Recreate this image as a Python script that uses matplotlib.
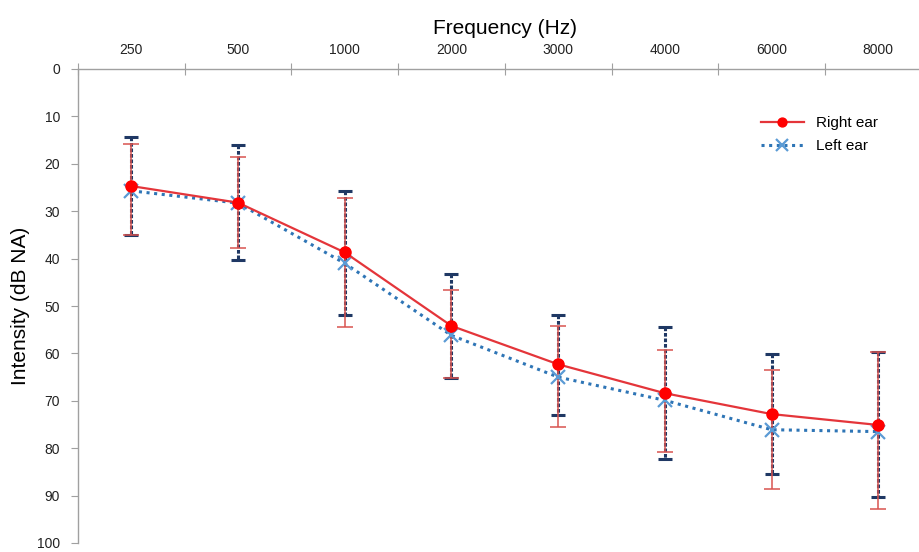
import matplotlib
matplotlib.use("Agg")
import matplotlib.pyplot as plt
from matplotlib.ticker import FixedLocator, NullFormatter, FixedFormatter
import numpy as np

plt.rcParams['font.family'] = ['Liberation Sans', 'DejaVu Sans']

freqs = ["250", "500", "1000", "2000", "3000", "4000", "6000", "8000"]
right_mean = [24.7, 28.2, 38.7, 54.2, 62.3, 68.4, 72.8, 75.1]
right_low = [15.9, 18.6, 27.2, 46.7, 54.2, 59.2, 63.6, 59.8]
right_high = [35.1, 37.7, 54.4, 65.1, 75.5, 80.8, 88.7, 92.9]
left_mean = [25.7, 28.3, 41.0, 56.2, 65.0, 69.9, 76.1, 76.5]
left_low = [14.4, 16.1, 25.7, 43.3, 51.9, 54.4, 60.2, 59.8]
left_high = [35.0, 40.4, 51.9, 65.1, 73.0, 82.2, 85.4, 90.4]

x = np.arange(len(freqs))
fig = plt.figure(figsize=(9.2, 5.52), dpi=100)
top_px, bot_px = 69, 543
ax = fig.add_axes([78/920, 1-bot_px/552, 853.6/920, (bot_px-top_px)/552])

rm = np.array(right_mean); lm = np.array(left_mean)
lerr = [lm - np.array(left_low), np.array(left_high) - lm]
rerr = [rm - np.array(right_low), np.array(right_high) - rm]

# Left ear error bars (dark navy, dotted)
eb1 = ax.errorbar(x, lm, yerr=lerr, fmt='none', ecolor='#1f3864', elinewidth=2.2,
                  capsize=5, capthick=2.2, zorder=2)
for lc in eb1[2]:
    lc.set_linestyle((0, (1.2, 0.6)))
# Right ear error bars (red, solid)
ax.errorbar(x, rm, yerr=rerr, fmt='none', ecolor='#d9534f', elinewidth=1.1,
            capsize=6, capthick=1.1, zorder=3)

ax.plot(x, lm, color='#2e75b6', linestyle=(0, (1, 1.5)), linewidth=2.2,
        marker='x', markersize=10, markeredgewidth=1.6, markeredgecolor='#5b9bd5',
        label='Left ear', zorder=4)
ax.plot(x, rm, color='#e4353a', linewidth=1.6, marker='o', markersize=8,
        markerfacecolor='#ff0000', markeredgecolor='#ff0000', label='Right ear', zorder=5)

ax.set_ylim(100, 0)
ax.set_xlim(-0.5, 7.5)
ax.set_yticks(np.arange(0, 101, 10))
ax.tick_params(axis='y', direction='out', length=5, color='#a0a0a0', labelsize=10,
               labelcolor='#222222', pad=8)

ax.xaxis.set_ticks_position('top')
ax.xaxis.set_label_position('top')
ax.xaxis.set_major_locator(FixedLocator(np.arange(-0.5, 8, 1.0)))
ax.xaxis.set_major_formatter(NullFormatter())
ax.xaxis.set_minor_locator(FixedLocator(x))
ax.xaxis.set_minor_formatter(FixedFormatter(freqs))
ax.tick_params(axis='x', which='major', direction='inout', length=8, color='#a0a0a0')
ax.tick_params(axis='x', which='minor', length=0, labelsize=10, labelcolor='#222222', pad=9)

for s in ['right', 'bottom']:
    ax.spines[s].set_visible(False)
for s in ['top', 'left']:
    ax.spines[s].set_color('#a0a0a0')
    ax.spines[s].set_linewidth(1.0)

ax.set_xlabel('Frequency (Hz)', fontsize=15, labelpad=6)
ax.set_ylabel('Intensity (dB NA)', fontsize=15, labelpad=5)

handles, labels = ax.get_legend_handles_labels()
order = [1, 0]
ax.legend([handles[i] for i in order], [labels[i] for i in order],
          loc='upper left', bbox_to_anchor=(755/920, 1-110/552), bbox_transform=fig.transFigure,
          frameon=False, fontsize=11, handlelength=2.8, labelspacing=0.6, borderaxespad=0,
          markerscale=0.8)

fig.savefig('out.png', dpi=100)
